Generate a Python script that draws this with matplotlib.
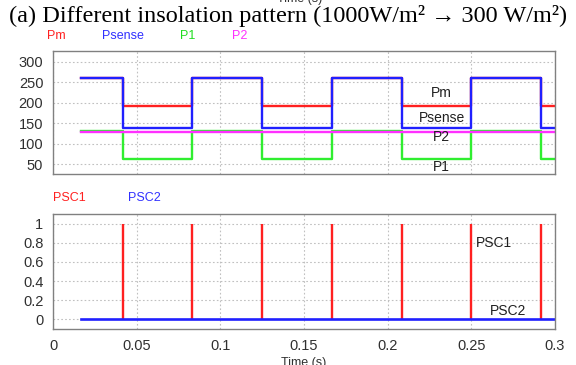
import matplotlib
matplotlib.use("Agg")
import matplotlib.pyplot as plt

# -------------------------------
# data
# -------------------------------
t_steps = [0.0168, 0.0417, 0.0833, 0.125, 0.1667, 0.2083, 0.25, 0.2917, 0.3]
pm = [260, 193, 260, 193, 260, 193, 260, 193, 193]
psense = [260, 138, 260, 138, 260, 138, 260, 138, 138]
p1 = [132, 63, 132, 63, 132, 63, 132, 63, 63]
p2 = [128, 128, 128, 128, 128, 128, 128, 128, 128]

psc1_times = [0.0417, 0.0833, 0.125, 0.1667, 0.2083, 0.25, 0.2917]
psc1_level = 1
psc2_t = [0.0168, 0.3]
psc2 = [0, 0]

xticks = [0, 0.05, 0.1, 0.15, 0.2, 0.25, 0.3]
xticklabels = ["0", "0.05", "0.1", "0.15", "0.2", "0.25", "0.3"]
yticks_top = [50, 100, 150, 200, 250, 300]
yticks_bot = [0, 0.2, 0.4, 0.6, 0.8, 1]
yticklabels_bot = ["0", "0.2", "0.4", "0.6", "0.8", "1"]

plt.rcParams['font.family'] = ['Liberation Sans', 'DejaVu Sans']

W, H = 576, 365
fig = plt.figure(figsize=(W / 100, H / 100), dpi=100)


def fx(x):
    return x / W


def fy(y):
    return 1 - y / H


def style(ax):
    for s in ax.spines.values():
        s.set_color("#808080")
        s.set_linewidth(1.0)
    ax.grid(True, color="#c0c0c0", linestyle=(0, (1.5, 2)), linewidth=0.8)
    ax.tick_params(length=0, labelsize=10.5, colors="#303030", pad=7)
    ax.set_xlim(0, 0.3)
    ax.set_xticks(xticks)


# -------------------------------
# top panel: powers
# -------------------------------
ax1 = fig.add_axes([fx(53), fy(174), fx(555 - 53), (174 - 51) / H])
style(ax1)
ax1.plot(t_steps, pm, drawstyle="steps-post", color="#ff2020", lw=1.7)
ax1.plot(t_steps, psense, drawstyle="steps-post", color="#2020ff", lw=1.7)
ax1.plot(t_steps, p1, drawstyle="steps-post", color="#30ee30", lw=1.7)
ax1.plot(t_steps, p2, drawstyle="steps-post", color="#ff30ff", lw=1.7)
ax1.set_ylim(26, 326)
ax1.set_yticks(yticks_top)
ax1.set_xticklabels([])

for txt, y in [("Pm", 223), ("Psense", 163), ("P2", 116), ("P1", 43)]:
    ax1.text(0.2323, y, txt, ha="center", va="center", fontsize=10, color="#202020")

# -------------------------------
# bottom panel: switch signals
# -------------------------------
ax2 = fig.add_axes([fx(53), fy(329), fx(555 - 53), (329 - 214) / H])
style(ax2)
ax2.vlines(psc1_times, 0, psc1_level, color="#ff2020", lw=1.7)
ax2.plot(psc2_t, psc2, color="#2020ff", lw=1.9)
ax2.set_ylim(-0.1, 1.1)
ax2.set_yticks(yticks_bot)
ax2.set_yticklabels(yticklabels_bot)
ax2.set_xticklabels(xticklabels)
ax2.set_xlabel("Time (s)", fontsize=9, color="#303030", labelpad=3)

ax2.text(0.2635, 0.8, "PSC1", ha="center", va="center", fontsize=10, color="#202020")
ax2.text(0.2719, 0.083, "PSC2", ha="center", va="center", fontsize=10, color="#202020")

# -------------------------------
# legends / titles
# -------------------------------
fig.text(fx(47), fy(36), "Pm", color="#ff2020", fontsize=9, va="center")
fig.text(fx(102), fy(36), "Psense", color="#3030ff", fontsize=9, va="center")
fig.text(fx(180), fy(36), "P1", color="#20dd20", fontsize=9, va="center")
fig.text(fx(232), fy(36), "P2", color="#ff30ff", fontsize=9, va="center")

fig.text(fx(53), fy(198), "PSC1", color="#ff2020", fontsize=9, va="center")
fig.text(fx(128), fy(198), "PSC2", color="#3030ff", fontsize=9, va="center")

fig.text(fx(300), fy(-1), "Time (s)", fontsize=9, color="#303030", ha="center", va="center")
fig.text(fx(288), fy(16), "(a) Different insolation pattern (1000W/m\u00b2 \u2192 300 W/m\u00b2)",
         family=["Liberation Serif", "DejaVu Serif"], fontsize=17.5, ha="center", va="center")

fig.savefig("out.png", dpi=100)
